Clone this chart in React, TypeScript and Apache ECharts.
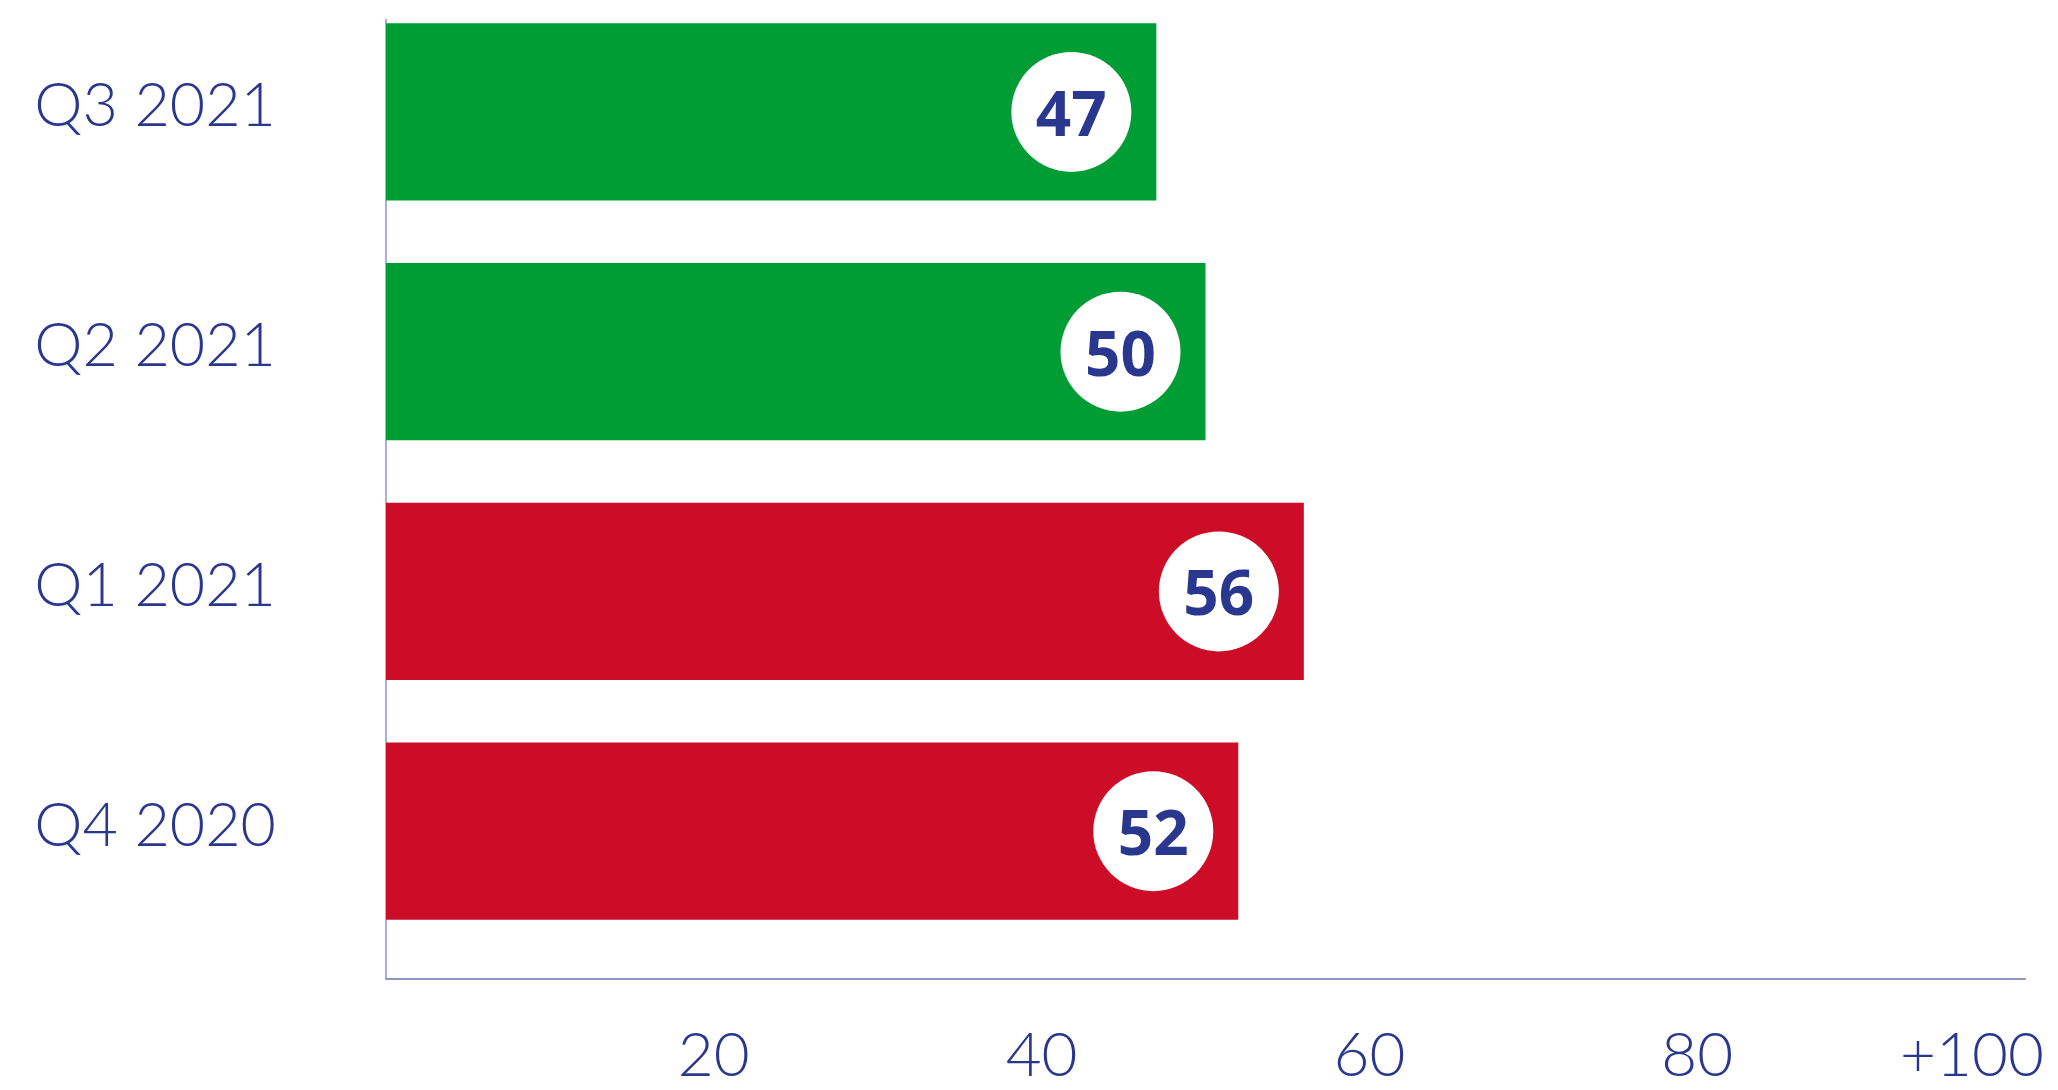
import React, { useEffect, useRef } from "react";
import * as echarts from "echarts";

const categories = ["Q3 2021", "Q2 2021", "Q1 2021", "Q4 2020"];
const values = [47, 50, 56, 52];
const barColors = ["#009c34", "#009c34", "#cd0d27", "#cd0d27"];
const xTickValues = [0, 20, 40, 60, 80, 100];
const xTickLabels = ["", "20", "40", "60", "80", "+100"];

const TEXT_BLUE = "#29378f";
const AXIS_COLOR = "#8e94c4";
const LIGHT_FONT = "Lato";

export default function App() {
  const ref = useRef<HTMLDivElement>(null);

  useEffect(() => {
    if (!ref.current) return;
    const chart = echarts.init(ref.current, null, { renderer: "svg" });
    const option = {
      animation: false,
      backgroundColor: "#ffffff",
      grid: {
        left: 386,
        right: 33,
        top: 12,
        bottom: 139,
        containLabel: false,
        outerBoundsMode: "none",
      },
      xAxis: {
        type: "value",
        min: 0,
        max: 100,
        interval: 20,
        offset: 28,
        axisLine: { show: true, lineStyle: { color: AXIS_COLOR, width: 2 } },
        axisTick: { show: false },
        splitLine: { show: false },
        axisLabel: {
          margin: 49,
          color: TEXT_BLUE,
          fontFamily: LIGHT_FONT,
          fontWeight: 300,
          fontSize: 62,
          lineHeight: 48,
          formatter: (v: number) => {
            const i = xTickValues.indexOf(v);
            const t = i >= 0 ? xTickLabels[i] : "";
            if (v === 100) return "{last|" + t + "}";
            return t;
          },
          rich: {
            last: {
              color: TEXT_BLUE,
              fontFamily: LIGHT_FONT,
              fontWeight: 300,
              fontSize: 62,
              lineHeight: 48,
              padding: [0, 106, 0, 0],
            },
          },
        },
      },
      yAxis: {
        type: "category",
        data: categories,
        inverse: true,
        axisLine: { show: false },
        axisTick: { show: false },
        splitLine: { show: false },
        axisLabel: {
          margin: 110,
          color: TEXT_BLUE,
          fontFamily: LIGHT_FONT,
          fontWeight: 300,
          fontSize: 61,
          lineHeight: 18,
          verticalAlign: "bottom",
        },
      },
      graphic: [
        {
          type: "line",
          z: 0,
          shape: { x1: 386, y1: 39, x2: 386, y2: 999 },
          style: { stroke: AXIS_COLOR, lineWidth: 1.5 },
        },
      ],
      series: [
        {
          type: "bar",
          z: 2,
          barCategoryGap: "26%",
          data: values.map((v, i) => ({ value: v, itemStyle: { color: barColors[i] } })),
          label: {
            show: true,
            position: "insideRight",
            distance: 85,
            align: "center",
            verticalAlign: "middle",
            width: 120,
            height: 120,
            lineHeight: 120,
            borderRadius: 60,
            backgroundColor: "#ffffff",
            color: TEXT_BLUE,
            fontFamily: "Noto Sans",
            fontWeight: "bold",
            fontSize: 62,
            formatter: (p: any) => String(p.value),
          },
        },
      ],
    };
    chart.setOption(option as any);
    return () => chart.dispose();
  }, []);

  return (
    <div
      ref={ref}
      style={{ position: "absolute", left: 0, top: -20, width: 2058, height: 1110 }}
    />
  );
}
